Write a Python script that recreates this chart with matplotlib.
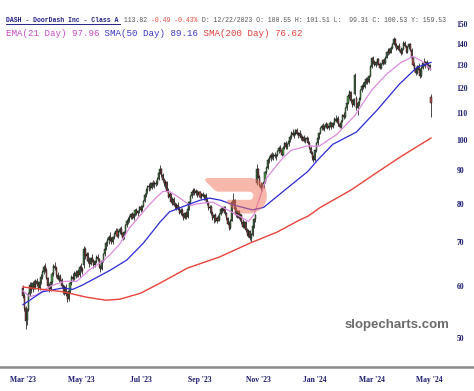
import numpy as np
import pandas as pd
import matplotlib
matplotlib.use("Agg")
import matplotlib.pyplot as plt
from matplotlib.path import Path
from matplotlib.patches import PathPatch
from matplotlib.lines import Line2D
from matplotlib.ticker import NullLocator, NullFormatter

# ---- DATA (daily DASH candles, Mar 2023 - May 2024)

opens = [
    59.5, 58.0, 55.6, 53.2, 55.2, 58.3, 60.0, 59.3, 60.4, 59.8,
    61.0, 60.4, 59.6, 60.9, 62.0, 63.0, 64.2, 63.5, 61.8, 60.0,
    59.3, 60.8, 62.6, 64.3, 64.0, 62.4, 61.6, 62.0, 61.3, 60.0,
    58.8, 59.9, 58.4, 57.4, 58.9, 60.7, 62.0, 61.5, 62.9, 62.2,
    63.1, 62.3, 64.2, 63.6, 64.5, 68.2, 66.6, 67.1, 65.4, 64.8,
    66.2, 65.6, 64.5, 65.5, 66.4, 65.9, 64.2, 63.6, 65.5, 67.0,
    68.3, 69.8, 70.4, 71.3, 70.6, 69.9, 71.2, 72.1, 72.8, 71.6,
    72.5, 73.2, 72.2, 71.0, 72.4, 74.2, 75.4, 75.9, 76.3, 77.2,
    76.2, 77.1, 78.2, 77.4, 78.0, 79.0, 78.3, 79.4, 80.8, 82.6,
    84.0, 84.8, 85.2, 84.5, 86.0, 85.3, 86.1, 85.6, 87.4, 89.2,
    90.2, 88.4, 86.8, 85.6, 86.2, 83.8, 82.0, 82.9, 80.6, 81.3,
    79.8, 79.2, 79.8, 78.6, 77.6, 78.4, 77.0, 76.0, 77.4, 76.3,
    78.5, 80.4, 82.2, 83.4, 84.0, 83.0, 83.8, 82.4, 83.3, 82.0,
    82.8, 82.1, 82.5, 81.2, 80.2, 78.8, 79.2, 77.4, 76.0, 76.8,
    75.4, 76.2, 75.6, 77.2, 78.6, 78.0, 79.0, 77.4, 76.0, 74.6,
    73.4, 75.4, 80.4, 81.0, 78.6, 76.8, 77.9, 76.2, 77.0, 75.0,
    73.8, 75.0, 73.0, 71.8, 72.8, 71.0, 71.8, 74.0, 75.8, 86.0,
    90.4, 88.0, 85.4, 84.4, 85.6, 86.2, 89.4, 90.8, 93.2, 93.8,
    95.0, 94.2, 95.0, 94.4, 94.9, 96.2, 97.2, 96.6, 95.0, 97.4,
    98.8, 97.6, 98.6, 99.8, 101.0, 102.6, 101.9, 102.4, 103.4, 102.0,
    102.6, 101.4, 100.6, 101.2, 99.8, 100.6, 100.5, 99.0, 97.4, 95.6,
    94.0, 93.2, 96.4, 99.0, 100.6, 102.6, 104.2, 105.2, 104.0, 104.8,
    105.8, 104.2, 105.2, 106.2, 104.6, 106.0, 107.6, 106.9, 107.8, 105.6,
    104.8, 107.0, 109.0, 108.2, 111.8, 114.0, 116.8, 118.2, 114.6, 113.0,
    117.6, 116.0, 112.0, 113.8, 115.6, 119.0, 121.0, 120.2, 122.4, 124.0,
    122.6, 125.0, 129.2, 133.0, 131.2, 129.8, 131.4, 132.6, 130.6, 128.8,
    130.4, 132.2, 131.0, 133.4, 136.0, 137.2, 135.8, 138.2, 140.0, 142.4,
    139.2, 137.4, 139.0, 137.0, 135.4, 137.6, 140.6, 139.0, 136.2, 138.4,
    140.0, 137.2, 133.0, 130.2, 128.0, 126.4, 129.6, 127.8, 125.0, 128.8,
    131.0, 130.2, 131.4, 129.6, 128.4, 116.4,
]
highs = [
    60.2, 58.6, 56.0, 55.5, 58.8, 60.8, 60.9, 61.0, 61.2, 61.5,
    61.8, 61.0, 61.3, 62.5, 63.4, 64.6, 65.0, 64.0, 62.0, 60.6,
    61.2, 63.0, 64.8, 65.2, 64.3, 63.0, 62.4, 62.6, 61.8, 60.5,
    60.3, 60.4, 58.9, 59.2, 61.0, 62.4, 62.8, 63.2, 63.5, 63.4,
    63.6, 64.5, 65.0, 64.2, 69.0, 68.8, 67.5, 67.6, 66.3, 66.5,
    67.0, 66.0, 65.8, 66.8, 67.2, 66.2, 64.6, 65.8, 67.4, 68.6,
    70.2, 71.0, 71.8, 72.4, 71.2, 71.6, 72.6, 73.5, 73.4, 72.9,
    73.8, 74.0, 72.6, 72.8, 74.6, 75.8, 76.5, 76.8, 77.6, 77.8,
    77.5, 78.6, 78.8, 78.4, 79.5, 79.8, 79.6, 81.2, 83.0, 84.6,
    85.4, 86.0, 86.2, 86.4, 86.8, 86.5, 86.9, 87.8, 89.6, 91.6,
    90.8, 89.0, 87.6, 86.8, 86.6, 84.5, 83.4, 83.2, 81.8, 81.8,
    80.6, 80.2, 80.4, 79.4, 78.8, 78.9, 77.6, 77.8, 78.0, 78.8,
    80.8, 82.6, 84.0, 84.6, 84.5, 84.2, 84.0, 83.8, 83.6, 83.2,
    83.4, 82.9, 83.0, 82.0, 80.8, 79.6, 79.8, 77.9, 77.2, 77.4,
    76.6, 77.0, 77.6, 79.0, 79.2, 79.4, 79.4, 77.8, 76.4, 75.4,
    75.8, 81.0, 83.2, 81.4, 79.0, 78.4, 78.2, 77.4, 77.2, 75.8,
    75.4, 75.4, 73.6, 73.2, 73.0, 72.2, 74.4, 76.2, 77.2, 92.0,
    90.8, 88.6, 86.4, 86.0, 87.0, 89.8, 91.4, 93.8, 94.6, 95.6,
    95.8, 95.4, 96.0, 95.2, 96.6, 97.8, 98.4, 97.4, 97.8, 99.2,
    99.6, 99.0, 100.4, 101.6, 103.2, 103.8, 102.8, 104.0, 104.2, 103.0,
    103.6, 102.4, 101.8, 101.6, 101.0, 101.5, 101.0, 99.8, 98.0, 96.2,
    95.0, 96.8, 99.4, 101.2, 103.0, 104.6, 105.8, 106.0, 105.4, 106.4,
    106.2, 105.6, 106.8, 106.6, 106.4, 108.2, 109.0, 108.4, 108.6, 106.4,
    107.4, 109.6, 110.2, 112.4, 114.6, 117.4, 119.2, 118.6, 115.4, 116.0,
    126.4, 116.8, 114.6, 116.2, 119.6, 121.6, 122.4, 123.0, 124.6, 124.8,
    125.6, 129.8, 133.6, 134.0, 132.4, 131.8, 133.2, 133.4, 131.6, 131.0,
    132.8, 133.0, 134.0, 136.6, 137.8, 138.0, 138.8, 140.6, 143.2, 142.8,
    140.2, 139.6, 140.4, 138.4, 138.0, 141.2, 141.6, 139.6, 138.8, 140.6,
    140.4, 137.8, 133.8, 131.6, 129.0, 130.2, 131.0, 128.6, 129.4, 131.6,
    133.4, 132.0, 132.4, 131.2, 130.6, 117.6,
]
lows = [
    57.5, 55.0, 51.6, 52.4, 55.0, 57.9, 58.6, 58.8, 59.3, 59.4,
    60.0, 59.0, 59.2, 60.4, 61.5, 62.6, 63.0, 61.4, 59.5, 58.8,
    59.0, 60.5, 62.2, 63.5, 62.0, 61.2, 60.8, 61.0, 59.6, 58.4,
    58.2, 58.0, 56.8, 57.0, 58.6, 60.2, 61.0, 61.2, 61.8, 61.9,
    61.9, 62.0, 63.0, 62.5, 64.0, 66.0, 65.5, 65.0, 64.2, 64.5,
    65.2, 64.0, 64.2, 65.0, 65.6, 63.8, 63.0, 63.4, 65.2, 66.6,
    68.0, 69.0, 69.6, 70.2, 69.4, 69.5, 70.8, 71.5, 71.2, 71.0,
    72.0, 71.8, 70.6, 70.8, 72.0, 73.8, 74.6, 75.0, 75.8, 75.8,
    75.6, 76.6, 76.8, 76.6, 77.6, 77.8, 78.0, 79.0, 80.4, 82.0,
    83.2, 83.8, 84.0, 84.2, 84.8, 84.6, 85.0, 85.4, 87.0, 88.8,
    88.0, 86.4, 85.2, 84.6, 83.4, 81.6, 81.2, 80.2, 79.6, 79.4,
    78.6, 78.4, 78.2, 77.2, 77.0, 76.6, 75.5, 75.8, 75.9, 76.0,
    78.2, 80.0, 81.6, 82.6, 82.5, 82.4, 82.0, 82.0, 81.6, 81.4,
    81.8, 81.0, 80.8, 79.8, 78.4, 77.4, 77.0, 75.6, 74.8, 75.0,
    74.8, 75.2, 75.4, 76.8, 77.6, 77.6, 77.0, 75.6, 74.2, 73.0,
    73.2, 75.2, 79.8, 78.2, 76.4, 76.2, 75.8, 75.4, 74.6, 73.4,
    73.6, 72.6, 71.4, 71.2, 70.6, 70.0, 71.5, 73.6, 75.0, 85.5,
    87.6, 85.0, 83.8, 83.6, 84.4, 86.0, 88.8, 90.4, 92.4, 93.0,
    93.6, 93.4, 93.8, 93.2, 94.4, 95.6, 96.0, 94.6, 94.8, 96.8,
    97.0, 96.8, 98.0, 99.2, 100.4, 101.4, 100.6, 101.8, 101.6, 100.8,
    101.0, 100.0, 99.6, 99.2, 99.0, 99.3, 98.6, 97.0, 95.2, 93.4,
    92.6, 93.0, 96.0, 98.4, 100.2, 102.0, 103.4, 103.6, 103.2, 104.2,
    103.8, 103.6, 104.6, 104.0, 104.2, 105.4, 106.4, 106.0, 105.2, 104.2,
    104.4, 106.6, 107.6, 108.0, 111.2, 113.4, 115.6, 114.0, 112.4, 112.6,
    117.2, 111.0, 109.2, 112.8, 115.2, 118.4, 119.6, 119.8, 121.6, 121.8,
    122.2, 124.6, 128.6, 130.6, 129.4, 129.0, 130.2, 130.0, 128.2, 128.2,
    130.0, 130.4, 130.6, 133.0, 134.8, 135.2, 135.4, 137.6, 139.4, 138.6,
    136.8, 136.8, 136.6, 134.8, 135.0, 137.2, 138.4, 135.6, 135.6, 137.6,
    136.6, 132.4, 129.6, 127.4, 125.6, 126.0, 127.2, 124.2, 124.6, 128.2,
    129.6, 128.8, 129.0, 127.6, 127.8, 108.4,
]
closes = [
    58.0, 55.6, 53.0, 55.0, 58.3, 60.2, 59.1, 60.6, 59.8, 61.0,
    60.4, 59.6, 60.9, 62.0, 63.0, 64.2, 63.5, 61.8, 60.0, 59.3,
    60.8, 62.6, 64.3, 64.0, 62.4, 61.6, 62.0, 61.3, 60.0, 58.8,
    59.9, 58.4, 57.4, 58.9, 60.7, 62.0, 61.5, 62.9, 62.2, 63.1,
    62.3, 64.2, 63.6, 63.2, 68.2, 66.6, 67.1, 65.4, 64.8, 66.2,
    65.6, 64.5, 65.5, 66.4, 65.9, 64.2, 63.6, 65.5, 67.0, 68.3,
    69.8, 70.4, 71.3, 70.6, 69.9, 71.2, 72.1, 72.8, 71.6, 72.5,
    73.2, 72.2, 71.0, 72.4, 74.2, 75.4, 75.9, 76.3, 77.2, 76.2,
    77.1, 78.2, 77.4, 78.0, 79.0, 78.3, 79.4, 80.8, 82.6, 84.0,
    84.8, 85.2, 84.5, 86.0, 85.3, 86.1, 85.6, 87.4, 89.2, 90.2,
    88.4, 86.8, 85.6, 86.2, 83.8, 82.0, 82.9, 80.6, 81.3, 79.8,
    79.2, 79.8, 78.6, 77.6, 78.4, 77.0, 76.0, 77.4, 76.3, 78.5,
    80.4, 82.2, 83.4, 84.0, 83.0, 83.8, 82.4, 83.3, 82.0, 82.8,
    82.1, 82.5, 81.2, 80.2, 78.8, 79.2, 77.4, 76.0, 76.8, 75.4,
    76.2, 75.6, 77.2, 78.6, 78.0, 79.0, 77.4, 76.0, 74.6, 73.4,
    75.4, 80.4, 81.0, 78.6, 76.8, 77.9, 76.2, 77.0, 75.0, 73.8,
    75.0, 73.0, 71.8, 72.8, 71.0, 71.8, 74.0, 75.8, 76.9, 90.4,
    88.0, 85.4, 84.4, 85.6, 86.2, 89.4, 90.8, 93.2, 93.8, 95.0,
    94.2, 95.0, 94.4, 94.9, 96.2, 97.2, 96.6, 95.0, 97.4, 98.8,
    97.6, 98.6, 99.8, 101.0, 102.6, 101.9, 102.4, 103.4, 102.0, 102.6,
    101.4, 100.6, 101.2, 99.8, 100.4, 100.5, 99.0, 97.4, 95.6, 94.0,
    93.2, 96.4, 99.0, 100.6, 102.6, 104.2, 105.2, 104.0, 104.8, 105.8,
    104.2, 105.2, 106.2, 104.6, 106.0, 107.6, 106.9, 107.8, 105.6, 104.8,
    107.0, 109.0, 108.2, 111.8, 114.0, 116.8, 118.2, 114.6, 113.0, 115.4,
    125.4, 112.0, 113.8, 115.6, 119.0, 121.0, 120.2, 122.4, 124.0, 122.6,
    125.0, 129.2, 133.0, 131.2, 129.8, 131.4, 132.6, 130.6, 128.8, 130.4,
    132.2, 131.0, 133.4, 136.0, 137.2, 135.8, 138.2, 140.0, 142.4, 139.2,
    137.4, 139.0, 137.0, 135.4, 137.6, 140.6, 139.0, 136.2, 138.4, 140.0,
    137.2, 133.0, 130.2, 128.0, 126.4, 129.6, 127.8, 125.0, 128.8, 131.0,
    130.2, 131.4, 129.6, 128.4, 130.0, 113.8,
]

# moving averages, read at a handful of trading-day positions
ema21_idx = [0, 5, 10, 20, 30, 39, 48, 58, 63, 70, 77, 84, 92, 97, 101, 106, 112,
             121, 126, 137, 147, 157, 163, 167, 171, 176, 188, 194, 206, 214, 227,
             240, 252, 263, 273, 282, 289, 295]
ema21_val = [59.0, 57.8, 58.2, 60.0, 61.0, 61.0, 63.5, 65.5, 67.0, 69.5, 73.5, 76.5,
             80.0, 82.0, 83.5, 83.5, 82.0, 79.5, 80.0, 80.5, 78.5, 76.5, 75.2, 77.0,
             81.5, 87.5, 94.0, 96.5, 98.0, 97.8, 102.0, 109.0, 119.0, 126.0, 131.0,
             134.0, 131.5, 128.0]
sma50_idx = [0, 14, 29, 36, 43, 50, 63, 75, 87, 99, 106, 119, 128, 135, 143, 152,
             166, 174, 188, 206, 213, 224, 241, 256, 272, 285, 295]
sma50_val = [56.2, 58.8, 59.6, 59.3, 60.2, 61.3, 63.4, 65.7, 69.7, 75.0, 77.8, 79.7,
             81.0, 81.6, 81.0, 79.7, 78.3, 79.0, 83.5, 89.6, 93.2, 98.5, 102.8, 111.0,
             121.5, 129.0, 131.2]
sma200_idx = [0, 29, 46, 60, 70, 85, 99, 119, 142, 164, 184, 200, 206, 215, 237,
              255, 273, 295]
sma200_val = [59.8, 58.8, 57.7, 57.1, 57.3, 58.5, 60.6, 63.9, 66.4, 69.7, 72.5, 75.6,
              76.6, 79.0, 83.9, 89.0, 94.3, 100.7]

holidays = ["2023-04-07", "2023-05-29", "2023-06-19", "2023-07-04", "2023-09-04",
            "2023-11-23", "2023-12-25", "2024-01-01", "2024-01-15", "2024-02-19",
            "2024-03-29"]
y_ticks = [50, 60, 70, 80, 90, 100, 110, 120, 130, 140, 150]

# ---- FIGURE

W, H = 474, 391
fig = plt.figure(figsize=(W / 100, H / 100), dpi=100)
ax = fig.add_axes([0, 1 - 367 / H, 1, 367 / H])

bday = pd.offsets.CustomBusinessDay(holidays=holidays)
dates = pd.date_range("2023-03-01", periods=len(closes), freq=bday)

o, h, l, c = (np.array(a) for a in (opens, highs, lows, closes))
idx = np.arange(len(c))
up = c >= o

# candles
ax.vlines(idx, l, h, color="black", lw=0.5, zorder=2)
ax.bar(idx[up], (c - o)[up], bottom=o[up], width=0.75, color="#4f9a4f",
       edgecolor="black", linewidth=0.3, zorder=3)
ax.bar(idx[~up], (o - c)[~up], bottom=c[~up], width=0.75, color="#b55252",
       edgecolor="black", linewidth=0.3, zorder=3)

# moving averages
ax.plot(ema21_idx, ema21_val, color="#de8ade", lw=0.9, zorder=4)
ax.plot(sma50_idx, sma50_val, color="#2a2ad6", lw=0.9, zorder=4)
ax.plot(sma200_idx, sma200_val, color="#e8433a", lw=1.0, zorder=4)

ax.set_yscale("log")
ax.set_ylim(45.2, 163.2)
ax.set_xlim(-16.6, 326.1)

tick_font = dict(family="Liberation Serif", weight="bold", size=5.5)
ax.yaxis.tick_right()
ax.set_yticks(y_ticks)
ax.set_yticklabels([str(v) for v in y_ticks], color="#1b1b70", **tick_font)
ax.yaxis.set_minor_locator(NullLocator())
ax.yaxis.set_minor_formatter(NullFormatter())
ax.tick_params(axis="y", length=0, pad=-12.5)

month_start = np.r_[True, dates.month[1:] != dates.month[:-1]]
x_pos = [i for i in idx if month_start[i] and dates[i].month % 2 == 1]
ax.set_xticks(x_pos)
ax.set_xticklabels([dates[i].strftime("%b '%y") for i in x_pos], color="#1b1b70",
                   **tick_font)
ax.tick_params(axis="x", length=0, pad=6.5)

for side in ("left", "right", "top"):
    ax.spines[side].set_visible(False)
ax.spines["bottom"].set_color("#8a8a8a")
ax.spines["bottom"].set_linewidth(1.8)

# ---- DOORDASH LOGO WATERMARK

logo = [(23.071, 8.409), (22.017, 6.418), (19.927, 5.181), (17.675, 5.181),
        (0.584, 5.181), (0.17, 6.184), (3.894, 9.93), (5.136, 10.446),
        (17.185, 10.446), (19.255, 10.446), (19.286, 13.554), (17.216, 13.554),
        (8.91, 13.554), (8.495, 14.557), (12.22, 18.304), (13.462, 18.82),
        (17.219, 18.82), (22.106, 18.82), (25.803, 13.595), (23.071, 8.409),
        (23.071, 8.409)]
codes = [Path.MOVETO] + [Path.CURVE4] * 3 + [Path.LINETO] * 5 + [Path.CURVE4] * 3 \
    + [Path.LINETO] * 5 + [Path.CURVE4] * 3 + [Path.CLOSEPOLY]
verts = [((205 + (u - 0.17) * 2.6) / W, 1 - (178 + (v - 5.18) * 2.6) / H) for u, v in logo]
fig.add_artist(PathPatch(Path(verts, codes), transform=fig.transFigure,
                         facecolor="#f17359", edgecolor="none", alpha=0.5, zorder=5))

# ---- HEADER TEXT

mono = "Liberation Mono"
s1 = 4.7
cw1 = 0.6 * s1 * 100 / 72
parts1 = [("DASH - DoorDash Inc - Class A", "#22228a", "bold"),
          (" 113.82 ", "#555555", "normal"),
          ("-0.49 -0.43%", "#e04a3a", "normal"),
          (" D: 12/22/2023 O: 100.55 H: 101.51 L:  99.31 C: 100.53 Y: 159.53",
           "#555555", "normal")]
x0 = 6
for txt, col, wt in parts1:
    fig.text(x0 / W, 1 - 20 / H, txt, family=mono, size=s1, color=col,
             weight=wt, va="center", ha="left")
    x0 += len(txt) * cw1
fig.add_artist(Line2D([6 / W, (6 + 29 * cw1) / W], [1 - 23.5 / H, 1 - 23.5 / H],
                      color="#22228a", lw=0.7, transform=fig.transFigure))

s2 = 6.6
cw2 = 0.6 * s2 * 100 / 72
parts2 = [("EMA(21 Day) 97.96", "#c94ac9"),
          (" SMA(50 Day) 89.16", "#3a3ac8"),
          (" SMA(200 Day) 76.62", "#e23c3c")]
x0 = 6
for txt, col in parts2:
    fig.text(x0 / W, 1 - 34 / H, txt, family=mono, size=s2, color=col,
             va="center", ha="left")
    x0 += len(txt) * cw2

fig.text(397 / W, 1 - 325 / H, "slopecharts.com", family="Liberation Sans",
         weight="bold", size=9.5, color="#6a6a6a", ha="center", va="center")

fig.savefig("out.png", dpi=100)
